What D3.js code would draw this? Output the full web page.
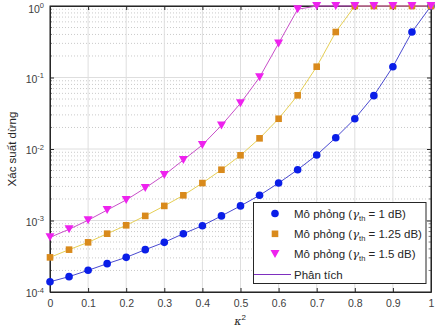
<!DOCTYPE html>
<html>
<head>
<meta charset="utf-8">
<script src="https://cdn.jsdelivr.net/npm/d3@7"></script>
<style>
  html, body { margin: 0; padding: 0; background: #fff; }
  svg { display: block; font-family: "Liberation Sans", Arial, sans-serif; }
</style>
</head>
<body>
<svg id="chart" width="435" height="331"></svg>
<script>
// κ² sample points
const kappa2 = [0, 0.05, 0.1, 0.15, 0.2, 0.25, 0.3, 0.35, 0.4, 0.45, 0.5,
                0.55, 0.6, 0.65, 0.7, 0.75, 0.8, 0.85, 0.9, 0.95, 1];

// Outage probability, γth = 1 dB
const pOut1 = [1.39e-4, 1.64e-4, 2.01e-4, 2.49e-4, 3.05e-4, 3.91e-4, 4.95e-4,
               6.54e-4, 8.46e-4, 1.16e-3, 1.60e-3, 2.25e-3, 3.34e-3, 5.13e-3,
               8.24e-3, 1.44e-2, 2.65e-2, 5.57e-2, 0.1416, 0.433, 1];
// Outage probability, γth = 1.25 dB
const pOut125 = [3.05e-4, 3.91e-4, 4.95e-4, 6.54e-4, 8.57e-4, 1.16e-3, 1.60e-3,
                 2.25e-3, 3.34e-3, 5.13e-3, 8.16e-3, 1.41e-2, 2.65e-2, 5.63e-2,
                 0.1416, 0.433, 1, 1, 1, 1, 1];
// Outage probability, γth = 1.5 dB
const pOut15 = [5.82e-4, 7.53e-4, 1.01e-3, 1.40e-3, 1.94e-3, 2.85e-3, 4.33e-3,
                7.02e-3, 1.14e-2, 2.14e-2, 4.36e-2, 0.1006, 0.30, 0.90,
                1, 1, 1, 1, 1, 1, 1];

const xTicks = [0, 0.1, 0.2, 0.3, 0.4, 0.5, 0.6, 0.7, 0.8, 0.9, 1];
const yTickExps = [0, -1, -2, -3, -4];

const legendLabels = ["1 dB", "1.25 dB", "1.5 dB"];
const analyticLabel = "Phân tích";

const svg = d3.select("#chart");
const L = 50, R = 431, T = 6, B = 292;

const x = d3.scaleLinear().domain([0, 1]).range([L, R]);
const y = d3.scaleLog().domain([1e-4, 1]).range([B, T]);

// Minor grid (dotted) on the log axis
const minorVals = [];
for (let e = -4; e < 0; e++) for (let m = 2; m <= 9; m++) minorVals.push(m * Math.pow(10, e));
svg.append("g").selectAll("line").data(minorVals).join("line")
  .attr("x1", L).attr("x2", R)
  .attr("y1", d => y(d)).attr("y2", d => y(d))
  .attr("stroke", "#bdbdbd").attr("stroke-width", 0.8)
  .attr("stroke-dasharray", "1,2");

// Major grid
svg.append("g").selectAll("line").data(yTickExps).join("line")
  .attr("x1", L).attr("x2", R)
  .attr("y1", d => y(Math.pow(10, d))).attr("y2", d => y(Math.pow(10, d)))
  .attr("stroke", "#dedede").attr("stroke-width", 1);
svg.append("g").selectAll("line").data(xTicks).join("line")
  .attr("x1", d => x(d)).attr("x2", d => x(d))
  .attr("y1", T).attr("y2", B)
  .attr("stroke", "#dedede").attr("stroke-width", 1);

// Axes with inward ticks on all four sides
const axisColor = "#262626";
const bottomAxis = d3.axisBottom(x).tickValues(xTicks).tickSizeInner(-4).tickSizeOuter(0)
  .tickFormat(d => d3.format("~g")(d));
const gB = svg.append("g").attr("transform", `translate(0,${B})`).call(bottomAxis);
gB.selectAll("text").attr("dy", "1.1em").attr("font-size", 10.5).attr("fill", "#404040");
const topAxis = d3.axisTop(x).tickValues(xTicks).tickSizeInner(-4).tickSizeOuter(0).tickFormat("");
svg.append("g").attr("transform", `translate(0,${T})`).call(topAxis);

const leftAxis = d3.axisLeft(y).tickValues(yTickExps.map(e => Math.pow(10, e)))
  .tickSizeInner(-4).tickSizeOuter(0).tickFormat("");
svg.append("g").attr("transform", `translate(${L},0)`).call(leftAxis);
const rightAxis = d3.axisRight(y).tickValues(yTickExps.map(e => Math.pow(10, e)))
  .tickSizeInner(-4).tickSizeOuter(0).tickFormat("");
svg.append("g").attr("transform", `translate(${R},0)`).call(rightAxis);
// minor ticks on the log axes
[[L, 2], [R, -2]].forEach(([xx, len]) => {
  svg.append("g").selectAll("line").data(minorVals).join("line")
    .attr("x1", xx).attr("x2", xx + len)
    .attr("y1", d => y(d)).attr("y2", d => y(d))
    .attr("stroke", axisColor).attr("stroke-width", 0.6);
});
svg.selectAll(".domain").attr("stroke", axisColor);
svg.selectAll(".tick line").attr("stroke", axisColor);

// Y tick labels as 10^e
const yLab = svg.append("g").selectAll("text").data(yTickExps).join("text")
  .attr("x", 44).attr("y", d => y(Math.pow(10, d)) + (d === 0 ? 6.5 : 5))
  .attr("text-anchor", "end").attr("font-size", 10.5).attr("fill", "#404040");
yLab.append("tspan").text("10");
yLab.append("tspan").attr("dy", -4.5).attr("font-size", 7.5).text(d => d === 0 ? "0" : "-" + (-d));

// Box
svg.append("rect").attr("x", L).attr("y", T).attr("width", R - L).attr("height", B - T)
  .attr("fill", "none").attr("stroke", axisColor).attr("stroke-width", 1);

// Axis titles
svg.append("text").attr("transform", `translate(16,${(T + B) / 2}) rotate(-90)`)
  .attr("text-anchor", "middle").attr("font-size", 11.5).attr("fill", "#262626")
  .text("Xác suất dừng");
const xt = svg.append("text").attr("x", 240).attr("y", 325)
  .attr("text-anchor", "middle").attr("font-size", 11).attr("fill", "#262626")
  .attr("font-family", "'DejaVu Serif', serif").attr("font-style", "italic");
xt.append("tspan").text("κ");
xt.append("tspan").attr("dy", -5).attr("font-size", 8).attr("font-style", "normal")
  .attr("font-family", "'Liberation Sans', Arial, sans-serif").text("2");

// Series
const series = [
  { vals: pOut1, line: "#4a4ad0", mark: "#0a1ee8", shape: "circle" },
  { vals: pOut125, line: "#e6cf55", mark: "#d98a1c", shape: "square" },
  { vals: pOut15, line: "#c84fc8", mark: "#ee22ee", shape: "triangle" }
];

const lineGen = d3.line().x((d, i) => x(kappa2[i])).y(d => y(d));

function drawMarker(g, shape, color, cx, cy) {
  if (shape === "circle") {
    g.append("circle").attr("cx", cx).attr("cy", cy).attr("r", 3.8).attr("fill", color);
  } else if (shape === "square") {
    g.append("rect").attr("x", cx - 3.3).attr("y", cy - 3.3).attr("width", 6.6).attr("height", 6.6).attr("fill", color);
  } else {
    g.append("path").attr("d", `M${cx - 4.5},${cy - 4} L${cx + 4.5},${cy - 4} L${cx},${cy + 4} Z`).attr("fill", color);
  }
}

series.forEach(s => {
  svg.append("path").datum(s.vals).attr("d", lineGen)
    .attr("fill", "none").attr("stroke", s.line).attr("stroke-width", 1);
});
series.forEach(s => {
  const g = svg.append("g");
  s.vals.forEach((v, i) => drawMarker(g, s.shape, s.mark, x(kappa2[i]), y(v)));
});

// Legend
const lg = svg.append("g");
lg.append("rect").attr("x", 253.5).attr("y", 202.5).attr("width", 172.5).attr("height", 81)
  .attr("fill", "#fff").attr("stroke", "#262626").attr("stroke-width", 1);
series.forEach((s, i) => {
  const cy = 213.5 + i * 20.3;
  drawMarker(lg, s.shape, s.mark, 275, cy);
  const t = lg.append("text").attr("x", 294).attr("y", cy + 4)
    .attr("font-size", 11.5).attr("fill", "#262626");
  t.append("tspan").text("Mô phỏng (");
  t.append("tspan").attr("font-family", "'DejaVu Serif', serif").attr("font-style", "italic").text("γ");
  t.append("tspan").attr("dy", 3).attr("font-size", 7.5).text("th");
  t.append("tspan").attr("dy", -3).text(" = " + legendLabels[i] + ")");
});
lg.append("line").attr("x1", 254).attr("x2", 291).attr("y1", 274.5).attr("y2", 274.5)
  .attr("stroke", "#7e2fbf").attr("stroke-width", 1);
lg.append("text").attr("x", 294).attr("y", 278.5).attr("font-size", 11.5).attr("fill", "#262626")
  .text(analyticLabel);
</script>
</body>
</html>
